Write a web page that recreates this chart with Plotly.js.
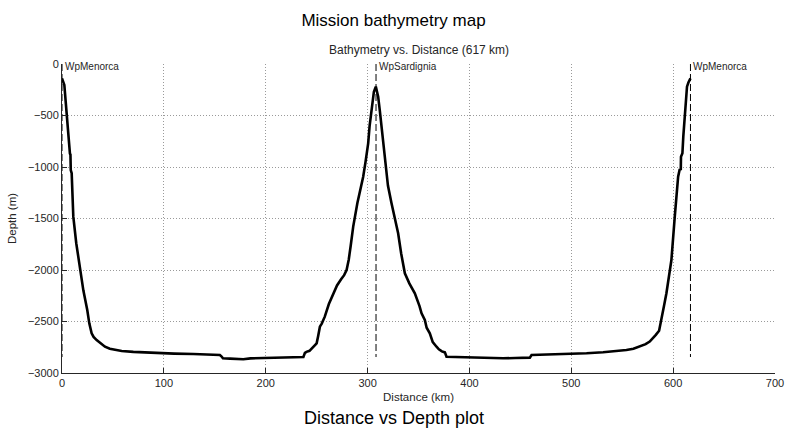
<!DOCTYPE html>
<html>
<head>
<meta charset="utf-8">
<script src="https://cdn.plot.ly/plotly-3.0.1.min.js"></script>
<style>
  html, body { margin: 0; padding: 0; background: #ffffff; }
  #chart { width: 787px; height: 438px; }
</style>
</head>
<body>
<div id="chart"></div>
<script>
// Along-track distance (km) and sea-floor depth (m) for the Menorca - Sardinia - Menorca transect
const distanceKm = [
  0, 1, 2.3, 3.5, 4.6, 6, 6.9, 7.8, 8.3, 8.6, 9.5, 11.1, 14, 17.7, 21, 24.8, 26.8, 29.1, 31, 34,
  38, 42.2, 47, 52, 58.6, 70, 80, 91.3, 110, 128.9, 145, 155, 156.7, 158, 165, 178, 185, 194,
  210, 225, 237, 238.5, 240, 243, 246.5, 250, 251.5, 253.2, 255, 258, 262, 266.2, 270, 274,
  277, 279.4, 281.5, 283.5, 285.9, 290, 295.7, 298, 300.6, 302, 303.9, 306.2, 308.1, 310.4, 312,
  313.7, 316, 318, 320, 323.5, 327, 330, 333, 336.6, 341, 346.4, 351, 353, 356.2, 358, 361.1,
  364, 367.7, 370, 373, 375.9, 377.5, 390, 400.4, 420, 433.1, 445, 459.3, 461, 480, 498.5, 515,
  531.2, 545, 554.1, 561, 567.2, 573, 577, 580.3, 583, 586.2, 588.5, 591, 593.4, 596, 598.3,
  601.6, 604.9, 606.5, 607.5, 607.7, 609.1, 610, 611.4, 612.5, 613.6, 615, 616.3, 617
];
const depthM = [
  -139, -160, -204, -350, -495, -680, -770, -870, -880, -1030, -1060, -1482, -1740, -2000, -2200,
  -2388, -2518, -2615, -2650, -2680, -2715, -2745, -2765, -2775, -2786, -2795, -2800, -2808,
  -2812, -2816, -2820, -2825, -2840, -2857, -2860, -2867, -2858, -2855, -2852, -2848, -2845,
  -2805, -2795, -2785, -2750, -2712, -2640, -2550, -2520, -2453, -2330, -2226, -2150, -2090,
  -2050, -2000, -1900, -1760, -1579, -1350, -1094, -950, -770, -600, -447, -269, -220, -317,
  -450, -609, -850, -1029, -1180, -1353, -1500, -1644, -1840, -2032, -2130, -2226, -2350,
  -2420, -2485, -2560, -2615, -2700, -2745, -2770, -2790, -2800, -2842, -2846, -2848, -2853,
  -2857, -2855, -2851, -2825, -2820, -2816, -2808, -2799, -2789, -2777, -2765, -2745, -2720,
  -2695, -2663, -2630, -2590, -2485, -2350, -2226, -2060, -1903, -1482, -1094, -1020, -1030,
  -900, -867, -700, -479, -350, -220, -180, -149, -140
];

// Waypoints passed along the route
const waypointNames = ["WpMenorca", "WpSardignia", "WpMenorca"];
const waypointKm = [0, 308.3, 617];
const waypointDepthM = [0, -2845];

const totalKm = 617;

const FONT = "Liberation Sans, Arial, Helvetica, sans-serif";
const INK = "#262626";

const traces = [{
  x: distanceKm,
  y: depthM,
  type: "scatter",
  mode: "lines",
  line: { color: "#000000", width: 2.6 },
  hoverinfo: "x+y",
  showlegend: false
}];

waypointKm.forEach(function (km) {
  traces.push({
    x: [km, km],
    y: waypointDepthM,
    type: "scatter",
    mode: "lines",
    line: { color: "#000000", width: 1, dash: "7px,3px" },
    hoverinfo: "skip",
    showlegend: false
  });
});

const annotations = waypointNames.map(function (name, i) {
  return {
    x: waypointKm[i], y: 0, xref: "x", yref: "y",
    text: name, showarrow: false,
    xanchor: "left", yanchor: "middle",
    xshift: 1, yshift: -2,
    font: { family: FONT, size: 10, color: INK }
  };
});

annotations.push({
  x: 0.5, y: 1.045, xref: "paper", yref: "paper",
  text: "Bathymetry vs. Distance (" + totalKm + " km)",
  showarrow: false, xanchor: "center", yanchor: "middle",
  font: { family: FONT, size: 12, color: INK }
});

// caption under the axes, centred on the page (paper units)
annotations.push({
  x: (393.5 - 62) / 713, y: (373 - 418) / 309, xref: "paper", yref: "paper",
  text: "Distance vs Depth plot",
  showarrow: false, xanchor: "center", yanchor: "middle",
  font: { family: FONT, size: 18, color: "#000000" }
});

const gridStyle = { showgrid: true, gridcolor: "#9a9a9a", griddash: "1px,2px", gridwidth: 1 };

const layout = {
  width: 787,
  height: 438,
  paper_bgcolor: "#ffffff",
  plot_bgcolor: "#ffffff",
  margin: { l: 62, r: 12, t: 64, b: 65 },
  title: {
    text: "Mission bathymetry map",
    xref: "container", x: 0.5, xanchor: "center",
    yref: "container", y: 1 - 20 / 438, yanchor: "middle",
    font: { family: FONT, size: 17, color: "#000000" }
  },
  xaxis: Object.assign({
    range: [0, 700],
    dtick: 100, tick0: 0,
    showline: true, linecolor: INK, linewidth: 1,
    ticks: "inside", ticklen: 5, tickcolor: INK,
    zeroline: false,
    tickfont: { family: FONT, size: 11, color: INK },
    title: { text: "Distance (km)", standoff: 4, font: { family: FONT, size: 11.5, color: INK } }
  }, gridStyle),
  yaxis: Object.assign({
    range: [-3000, 0],
    dtick: 500, tick0: 0,
    showline: true, linecolor: INK, linewidth: 1,
    ticks: "inside", ticklen: 5, tickcolor: INK,
    zeroline: false,
    tickfont: { family: FONT, size: 11, color: INK },
    title: { text: "Depth (m)", standoff: 8, font: { family: FONT, size: 11.5, color: INK } }
  }, gridStyle),
  annotations: annotations,
  showlegend: false
};

Plotly.newPlot("chart", traces, layout, { displayModeBar: false, staticPlot: true });
</script>
</body>
</html>
